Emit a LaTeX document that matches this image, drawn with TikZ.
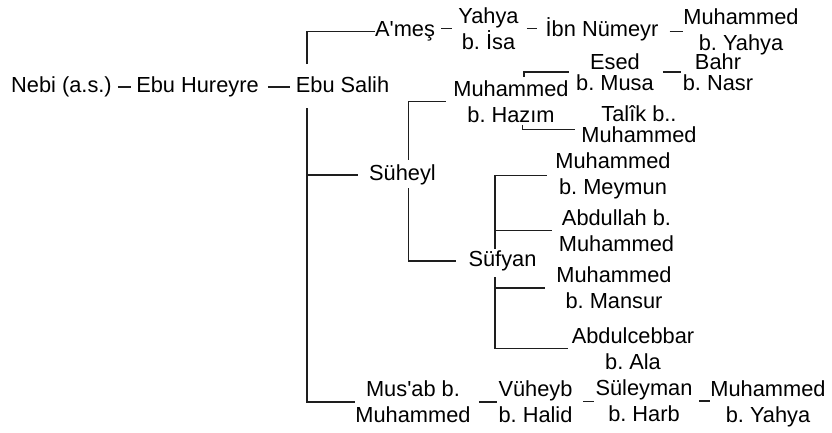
\documentclass[tikz,border=0pt]{standalone}
\usepackage{fontspec}
\setmainfont{Liberation Sans}
\frenchspacing
\definecolor{cizgi}{HTML}{1E1E1E}
\begin{document}
\begin{tikzpicture}[x=1pt,y=-1pt,
  isim/.style={align=center, inner sep=0pt, font=\fontsize{21.8}{26}\selectfont},
  sik/.style={isim, font=\fontsize{21.8}{21}\selectfont},
  hat/.style={draw=cizgi, line width=1.3pt}]
\useasboundingbox (0,0) rectangle (832,432);

\node[isim, anchor=base] (nebi) at (61.5,92.5) {Nebi (a.s.)};
\node[isim, anchor=base] (hureyre) at (197.5,92.5) {Ebu Hureyre};
\node[isim, anchor=base] (salih) at (342.5,92) {Ebu Salih};
\node[isim, anchor=base] (ames) at (405,36.7) {A\textquotesingle meş};
\node[isim] (yahya) at (488.5,28.5) {Yahya\\b. İsa};
\node[isim, anchor=base] (ibn) at (602,36) {İbn Nümeyr};
\node[isim] (muhyahya) at (741,31.5) {Muhammed\\b. Yahya};
\node[isim] (hazim) at (511,101.5) {Muhammed\\b. Hazım};
\node[sik] (esed) at (615,72) {Esed\\b. Musa};
\node[sik] (bahr) at (718,72) {Bahr\\b. Nasr};
\node[sik] (talik) at (639,124.5) {Talîk b..\\Muhammed};
\node[isim, anchor=base] (suheyl) at (402.5,180.7) {Süheyl};
\node[isim, anchor=base] (sufyan) at (502.5,266.7) {Süfyan};
\node[isim] (meymun) at (613,175.7) {Muhammed\\b. Meymun};
\node[isim] (abdullah) at (616.5,230.5) {Abdullah b.\\Muhammed};
\node[isim] (mansur) at (614,288) {Muhammed\\b. Mansur};
\node[isim] (cebbar) at (633,348.4) {Abdulcebbar\\b. Ala};
\node[isim] (musab) at (413,402) {Mus\textquotesingle ab b.\\Muhammed};
\node[isim] (vuheyb) at (535.5,401.5) {Vüheyb\\b. Halid};
\node[isim] (suleyman) at (644,401) {Süleyman\\b. Harb};
\node[isim] (muhyahyab) at (768,403.4) {Muhammed\\b. Yahya};

\coordinate (govde) at (307,0);
\coordinate (sx) at ([xshift=-7.5pt]sufyan.center);

\path[hat, shorten <=6pt, shorten >=5pt] (nebi.east) -- (nebi.east -| hureyre.west);
\path[hat, shorten <=9pt, shorten >=6pt] (hureyre.east) -- (hureyre.east -| salih.west);
\path[hat, shorten <=12pt] (salih.north -| govde) |- (ames.west);
\path[hat, shorten <=16pt] (salih.south -| govde) |- (musab.west);
\path[hat, shorten >=11pt] (suheyl.west -| govde) -- (suheyl.west);

\path[hat, shorten <=6pt, shorten >=6pt] (yahya.west -| ames.east) -- (yahya.west);
\path[hat, shorten <=8pt, shorten >=8.5pt] (yahya.east) -- (yahya.east -| ibn.west);
\path[hat, shorten <=11pt] (muhyahya.west -| ibn.east) -- (muhyahya.west);

\path[hat, shorten <=5pt, shorten >=7pt] ([xshift=6pt]suheyl.north) |- (hazim.west);
\path[hat, shorten <=3pt, shorten >=12pt] ([xshift=6pt]suheyl.south) |- (sufyan.west);
\path[hat, shorten <=3.5pt, shorten >=7pt] ([xshift=13pt]hazim.north) |- (esed.west);
\path[hat, shorten <=2.3pt, shorten >=6pt] ([xshift=11.7pt]hazim.south) |- ([yshift=-5pt]talik.west);
\path[hat, shorten <=9pt, shorten >=2pt] (esed.east) -- (esed.east -| bahr.west);

\path[hat, shorten <=2pt, shorten >=8pt] (sufyan.north -| sx) |- (meymun.west);
\path[hat, shorten >=7pt] (abdullah.west -| sx) -- (abdullah.west);
\path[hat, shorten <=6pt, shorten >=4pt] (sufyan.south -| sx) |- (cebbar.west);
\path[hat, shorten >=11pt] (mansur.west -| sx) -- (mansur.west);

\path[hat, shorten <=8pt, shorten >=1pt] (musab.east) -- (musab.east -| vuheyb.west);
\path[hat, shorten <=10.5pt, shorten >=1.5pt] (vuheyb.east) -- (vuheyb.east -| suleyman.west);
\path[hat, shorten <=6.5pt, shorten >=0.5pt] (suleyman.east) -- (suleyman.east -| muhyahyab.west);
\end{tikzpicture}
\end{document}
